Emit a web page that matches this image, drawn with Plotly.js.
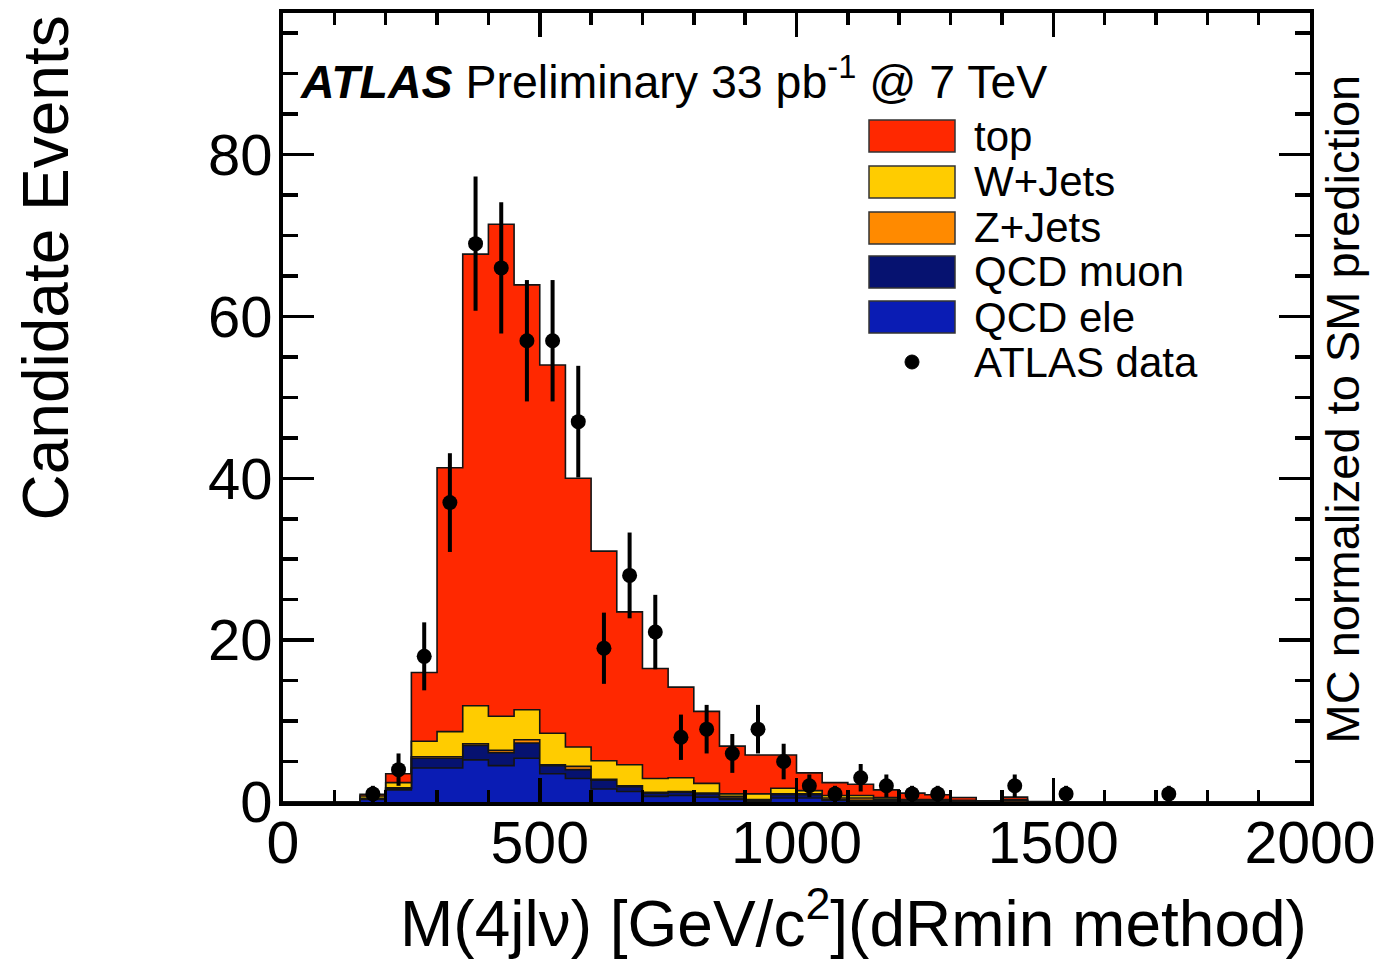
<!DOCTYPE html>
<html>
<head>
<meta charset="utf-8">
<script src="https://cdn.plot.ly/plotly-3.0.1.min.js"></script>
<style>html,body{margin:0;padding:0;background:#fff;}#chart{width:1386px;height:963px;}</style>
</head>
<body>
<div id="chart"></div>
<script>
// Bin lower edges (GeV), bin width 50
const binLow = [0,50,100,150,200,250,300,350,400,450,500,550,600,650,700,750,800,850,900,950,
                1000,1050,1100,1150,1200,1250,1300,1350,1400,1450,1500,1550,1600,1650,1700,1750,1800,1850,1900,1950];
const binWidth = 50;

// MC components (events per bin)
const qcdEle = [0,0,0,0.3,1.5,4.2,4.2,5.2,4.5,5.4,3.5,2.9,1.6,1.3,0.7,0.8,0.6,0.3,0.1,0.5,
                0.5,0.2,0.1,0.1,0.05,0.05,0,0,0,0,0,0,0,0,0,0,0,0,0,0];
const qcdMu  = [0,0,0,0.1,0.2,1.2,1.2,1.8,1.6,1.9,1.0,1.1,1.1,0.6,0.4,0.4,0.4,0.2,0.1,0.4,
                0.4,0.1,0.1,0.05,0.05,0.05,0,0,0,0,0,0,0,0,0,0,0,0,0,0];
const zJets  = [0,0,0,0.05,0.05,0.2,0.2,0.2,0.3,0.4,0.1,0.4,0.1,0.1,0.1,0.1,0.1,0.2,0.1,0.1,
                0.1,0.2,0.3,0.2,0.1,0.1,0.1,0,0.15,0,0,0,0,0,0,0,0,0,0,0];
const wJets  = [0,0,0,0.3,0.65,1.9,3.1,4.7,4.2,3.7,3.9,2.4,2.3,2.6,1.7,1.7,1.2,0.3,0.7,0.7,
                0.4,0.3,0.3,0.2,0.1,0.1,0.1,0.05,0.15,0,0,0,0,0,0,0,0,0,0,0];
const topMC  = [0,0,0,0.2,1.1,8.5,32.6,55.8,60.8,52.5,45.5,33.2,25.9,18.9,13.6,11.2,8.9,5.9,4.8,4.1,
                2.2,1.6,1.4,0.95,0.8,0.6,0.35,0.1,0.3,0.05,0,0,0,0,0,0,0,0,0,0];

// ATLAS data (null = empty bin) and its error bars
const dataCounts = [null,null,null,1,4,18,37,69,66,57,57,47,19,28,21,8,9,6,9,5,
                    2,1,3,2,1,1,null,null,2,null,1,null,null,null,1,null,null,null,null,null];
const dataErr    = [0,0,0,1,2,4.2,6.1,8.3,8.1,7.5,7.5,6.9,4.4,5.3,4.6,2.8,3,2.4,3,2.2,
                    1.4,1,1.7,1.4,1,1,0,0,1.4,0,1,0,0,0,1,0,0,0,0,0];

const seriesNames  = ['QCD ele','QCD muon','Z+Jets','W+Jets','top'];
const seriesValues = [qcdEle, qcdMu, zJets, wJets, topMC];
const seriesColors = ['#0a1cb4','#061270','#ff8a00','#ffcc00','#ff2800'];

const yTickVals = [0,20,40,60,80];
const xTickVals = [0,500,1000,1500,2000];

// ---- build stacked step histograms ----
const edges = binLow.concat([binLow[binLow.length-1] + binWidth]);
const traces = [];
let cum = binLow.map(() => 0);
seriesValues.forEach((vals, k) => {
  cum = cum.map((c, i) => c + vals[i]);
  const y = cum.concat([cum[cum.length-1]]);
  traces.push({
    type: 'scatter', mode: 'lines', x: edges, y: y,
    line: {shape: 'hv', color: '#141414', width: 1.6},
    fill: k === 0 ? 'tozeroy' : 'tonexty',
    fillcolor: seriesColors[k],
    name: seriesNames[k], showlegend: false, hoverinfo: 'skip'
  });
});
const centers = binLow.map(b => b + binWidth/2);
traces.push({
  type: 'scatter', mode: 'markers', x: centers, y: dataCounts,
  marker: {color: 'black', size: 15},
  error_y: {type: 'data', array: dataErr, visible: true, width: 0, thickness: 4, color: 'black'},
  name: 'ATLAS data', showlegend: false
});

// ---- pixel helpers for annotation placement ----
const L = 283, R = 1310, T = 13, B = 802;
const px = v => (v - L) / (R - L);
const py = v => (B - v) / (B - T);
const FONT = 'Liberation Sans, Arial, Helvetica, sans-serif';

const shapes = [];
const annotations = [];

// custom legend (top of list first)
const legendNames  = ['top','W+Jets','Z+Jets','QCD muon','QCD ele'];
const legendColors = ['#ff2800','#ffcc00','#ff8a00','#061270','#0a1cb4'];
const legendY = [136, 182, 228, 272, 317];
legendNames.forEach((n, i) => {
  shapes.push({type:'rect', xref:'paper', yref:'paper',
    x0: px(869), x1: px(955), y0: py(legendY[i]+16), y1: py(legendY[i]-16),
    fillcolor: legendColors[i], line: {color: '#333', width: 1.5}});
  annotations.push({xref:'paper', yref:'paper', x: px(972), y: py(legendY[i]),
    xanchor:'left', yanchor:'middle', showarrow:false, text: n,
    font:{family: FONT, size: 42, color:'black'}});
});
shapes.push({type:'circle', xref:'paper', yref:'paper',
  x0: px(905), x1: px(919), y0: py(369), y1: py(355), fillcolor:'black', line:{color:'black', width:1}});
annotations.push({xref:'paper', yref:'paper', x: px(972), y: py(362),
  xanchor:'left', yanchor:'middle', showarrow:false, text:'ATLAS data',
  font:{family: FONT, size: 42, color:'black'}});

// ATLAS label
annotations.push({xref:'paper', yref:'paper', x: px(298), y: py(78),
  xanchor:'left', yanchor:'middle', showarrow:false,
  text:'<b><i>ATLAS</i></b> Preliminary 33 pb<sup>-1</sup> @ 7 TeV',
  font:{family: FONT, size: 46.5, color:'black'}});

// axis titles
annotations.push({xref:'paper', yref:'paper', x: px(45), y: py(14),
  xanchor:'center', yanchor:'top', showarrow:false, textangle:-90,
  text:'Candidate Events', font:{family: FONT, size: 64, color:'black'}});
annotations.push({xref:'paper', yref:'paper', x: px(1309), y: py(919),
  xanchor:'right', yanchor:'middle', showarrow:false,
  text:'M(4jlν) [GeV/c<sup>2</sup>](dRmin method)', font:{family: FONT, size: 64, color:'black'}});
annotations.push({xref:'paper', yref:'paper', x: px(1342), y: py(746),
  xanchor:'center', yanchor:'bottom', showarrow:false, textangle:-90,
  text:'MC normalized to SM prediction', font:{family: FONT, size: 47, color:'black'}});

const layout = {
  width: 1386, height: 963,
  margin: {l: L, r: 1386 - R, t: T, b: 963 - B, pad: 0},
  paper_bgcolor: 'white', plot_bgcolor: 'white',
  showlegend: false,
  font: {family: FONT, color: 'black'},
  xaxis: {
    range: [0, 2000], tickvals: xTickVals, ticktext: xTickVals.map(String),
    ticks: 'inside', ticklen: 24, tickwidth: 3.5, tickcolor: 'black',
    minor: {dtick: 100, ticks: 'inside', ticklen: 12, tickwidth: 3.5, tickcolor: 'black'},
    showline: true, linewidth: 4, linecolor: 'black', mirror: 'allticks',
    showgrid: false, zeroline: false, ticklabelstandoff: -14,
    tickfont: {family: FONT, size: 59, color: 'black'}
  },
  yaxis: {
    range: [0, 97.5], tickvals: yTickVals, ticktext: yTickVals.map(String),
    ticks: 'inside', ticklen: 31, tickwidth: 3.5, tickcolor: 'black',
    minor: {dtick: 5, ticks: 'inside', ticklen: 15, tickwidth: 3.5, tickcolor: 'black'},
    showline: true, linewidth: 4, linecolor: 'black', mirror: 'allticks',
    showgrid: false, zeroline: false, ticklabelstandoff: -5,
    tickfont: {family: FONT, size: 58, color: 'black'}
  },
  shapes: shapes,
  annotations: annotations
};

Plotly.newPlot('chart', traces, layout, {displayModeBar: false, staticPlot: true});
</script>
</body>
</html>
